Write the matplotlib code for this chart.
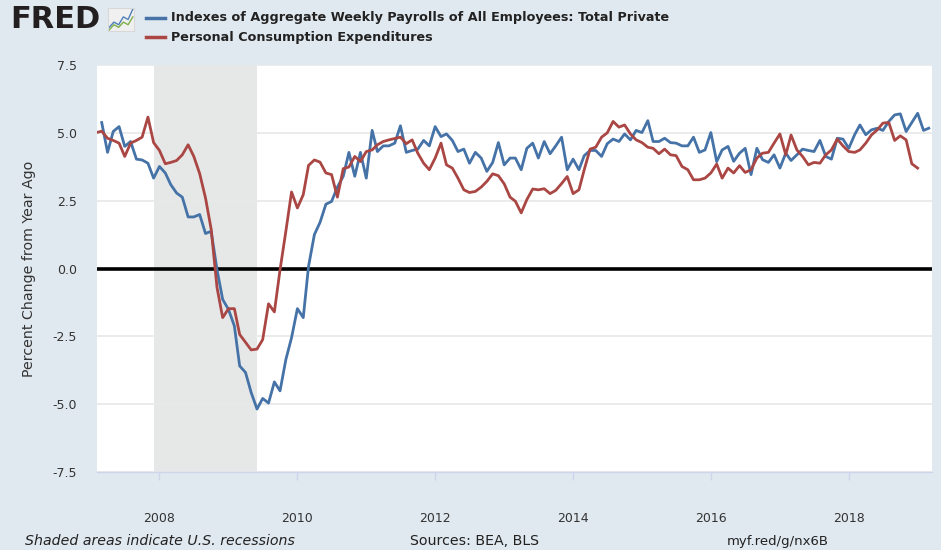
import matplotlib
matplotlib.use("Agg")
import matplotlib.pyplot as plt
import matplotlib.dates as mdates
from matplotlib.lines import Line2D
import pandas as pd

# year-over-year % change, monthly
payrolls_start = "2007-03-01"
payrolls = [
    5.38, 4.28, 5.05, 5.23, 4.50, 4.68, 4.03, 4.00, 3.88, 3.33, 3.76,
    3.52, 3.09, 2.78, 2.63, 1.90, 1.90, 1.99, 1.29, 1.37, -0.04, -1.14, -1.51,
    -2.12, -3.59, -3.83, -4.57, -5.18, -4.79, -4.96, -4.18, -4.51, -3.35, -2.55, -1.48,
    -1.81, 0.08, 1.25, 1.70, 2.37, 2.47, 3.00, 3.40, 4.28, 3.40, 4.28, 3.33,
    5.09, 4.31, 4.52, 4.52, 4.62, 5.26, 4.28, 4.35, 4.40, 4.72, 4.52, 5.23,
    4.86, 4.96, 4.72, 4.31, 4.40, 3.88, 4.28, 4.07, 3.58, 3.91, 4.64, 3.82,
    4.07, 4.07, 3.64, 4.43, 4.62, 4.07, 4.68, 4.23, 4.52, 4.84, 3.64, 4.03,
    3.64, 4.16, 4.35, 4.35, 4.13, 4.60, 4.77, 4.68, 4.96, 4.74, 5.09, 5.01,
    5.45, 4.68, 4.68, 4.80, 4.64, 4.62, 4.52, 4.52, 4.84, 4.28, 4.37, 5.01,
    3.94, 4.37, 4.50, 3.95, 4.25, 4.43, 3.46, 4.43, 4.01, 3.91, 4.19, 3.70,
    4.25, 3.98, 4.19, 4.40, 4.35, 4.31, 4.72, 4.13, 4.03, 4.80, 4.77, 4.43,
    4.93, 5.29, 4.93, 5.11, 5.17, 5.09, 5.42, 5.66, 5.70, 5.05, 5.38, 5.72,
    5.09, 5.17,
]

pce_start = "2007-02-01"
pce = [
    5.01, 5.06, 4.80, 4.72, 4.62, 4.13, 4.62, 4.72, 4.84, 5.58, 4.64,
    4.35, 3.86, 3.91, 3.98, 4.19, 4.56, 4.13, 3.50, 2.60, 1.45, -0.70, -1.81,
    -1.48, -1.48, -2.43, -2.72, -3.00, -2.97, -2.62, -1.30, -1.60, -0.05, 1.38, 2.82,
    2.23, 2.72, 3.80, 4.00, 3.92, 3.52, 3.46, 2.63, 3.68, 3.74, 4.13, 3.94,
    4.31, 4.37, 4.56, 4.68, 4.74, 4.79, 4.84, 4.60, 4.74, 4.25, 3.88, 3.64,
    4.07, 4.62, 3.82, 3.70, 3.33, 2.90, 2.80, 2.84, 3.00, 3.21, 3.49, 3.42,
    3.12, 2.63, 2.48, 2.05, 2.54, 2.93, 2.90, 2.94, 2.76, 2.88, 3.13, 3.39,
    2.76, 2.90, 3.64, 4.40, 4.47, 4.84, 5.00, 5.42, 5.21, 5.29, 4.96, 4.74,
    4.64, 4.47, 4.43, 4.23, 4.40, 4.19, 4.16, 3.76, 3.64, 3.27, 3.27, 3.33,
    3.52, 3.85, 3.33, 3.70, 3.52, 3.79, 3.54, 3.64, 4.07, 4.25, 4.28, 4.62,
    4.96, 4.19, 4.92, 4.37, 4.13, 3.82, 3.91, 3.88, 4.19, 4.37, 4.77, 4.52,
    4.31, 4.28, 4.37, 4.62, 4.92, 5.11, 5.36, 5.38, 4.72, 4.89, 4.74, 3.86,
    3.70,
]

recession = ("2007-12-01", "2009-06-01")
y_ticks = [-7.5, -5.0, -2.5, 0.0, 2.5, 5.0, 7.5]
x_tick_years = [2008, 2010, 2012, 2014, 2016, 2018]

series1_name = "Indexes of Aggregate Weekly Payrolls of All Employees: Total Private"
series2_name = "Personal Consumption Expenditures"

blue = "#4572a7"
red = "#aa4643"
bg = "#e1e9f0"

pay_dates = pd.date_range(payrolls_start, periods=len(payrolls), freq="MS")
pce_dates = pd.date_range(pce_start, periods=len(pce), freq="MS")

fig = plt.figure(figsize=(9.41, 5.5), dpi=100)
fig.patch.set_facecolor(bg)
W, H = 941, 550
ax = fig.add_axes([97 / W, 1 - 472 / H, 835 / W, 407 / H])
ax.set_facecolor("white")

ax.axvspan(pd.Timestamp(recession[0]), pd.Timestamp(recession[1]),
           color="#e6e8e8", zorder=0, lw=0)
for yv in y_ticks:
    ax.axhline(yv, color="#e8e8e8", lw=1.2, zorder=1)
ax.axhline(0, color="black", lw=2.6, zorder=2)

ax.plot(pay_dates, payrolls, color=blue, lw=2, zorder=3)
ax.plot(pce_dates, pce, color=red, lw=2, zorder=3)

ax.set_xlim(pd.Timestamp("2007-02-04"), pd.Timestamp("2019-03-18"))
ax.set_ylim(-7.5, 7.5)
ax.set_yticks(y_ticks)
ax.set_yticklabels([f"{v:.1f}" for v in y_ticks])
ax.set_xticks([pd.Timestamp(f"{y}-01-01") for y in x_tick_years])
ax.xaxis.set_major_formatter(mdates.DateFormatter("%Y"))

for s in ["top", "right", "left"]:
    ax.spines[s].set_visible(False)
ax.spines["bottom"].set_color("#ccd6eb")
ax.spines["bottom"].set_linewidth(1)
ax.tick_params(axis="y", length=0, pad=14.5, labelsize=9, labelcolor="#333333")
ax.tick_params(axis="x", length=6, width=1, color="#ccd6eb", pad=23,
               labelsize=9, labelcolor="#333333")
ax.set_ylabel("Percent Change from Year Ago", fontsize=10.2, color="#333333",
              labelpad=12)

# header: logo and legend
fig.text(10 / W, 1 - 19 / H, "FRED", fontsize=22, fontweight="bold",
         color="#231f20", va="center", ha="left")
icon = fig.add_axes([108 / W, 1 - 31 / H, 26 / W, 23 / H])
icon.set_facecolor("#f0f0f0")
icon_blue = [1, 3, 2, 5, 4, 8]
icon_green = [0, 2, 1, 3, 2, 5]
icon.plot(icon_blue, color="#4d7fb8", lw=1)
icon.plot(icon_green, color="#7fb04a", lw=1)
icon.set_xticks([])
icon.set_yticks([])
for s in icon.spines.values():
    s.set_color("#d8d8d8")

for i, (name, col) in enumerate([(series1_name, blue), (series2_name, red)]):
    yy = 1 - (18 + 19 * i) / H
    fig.add_artist(Line2D([146 / W, 165 / W], [yy, yy], color=col, lw=2.5,
                          transform=fig.transFigure))
    fig.text(171 / W, yy, name, fontsize=9.2, fontweight="bold",
             color="#222222", va="center", ha="left")

# footer
fig.text(25 / W, 1 - 541 / H, "Shaded areas indicate U.S. recessions",
         fontsize=10.2, style="italic", color="#222222", va="center")
fig.text(410 / W, 1 - 541 / H, "Sources: BEA, BLS", fontsize=10.2,
         color="#222222", va="center")
fig.text(727 / W, 1 - 541 / H, "myf.red/g/nx6B", fontsize=9.5,
         color="#222222", va="center")

fig.savefig("out.png", dpi=100, facecolor=fig.get_facecolor())
